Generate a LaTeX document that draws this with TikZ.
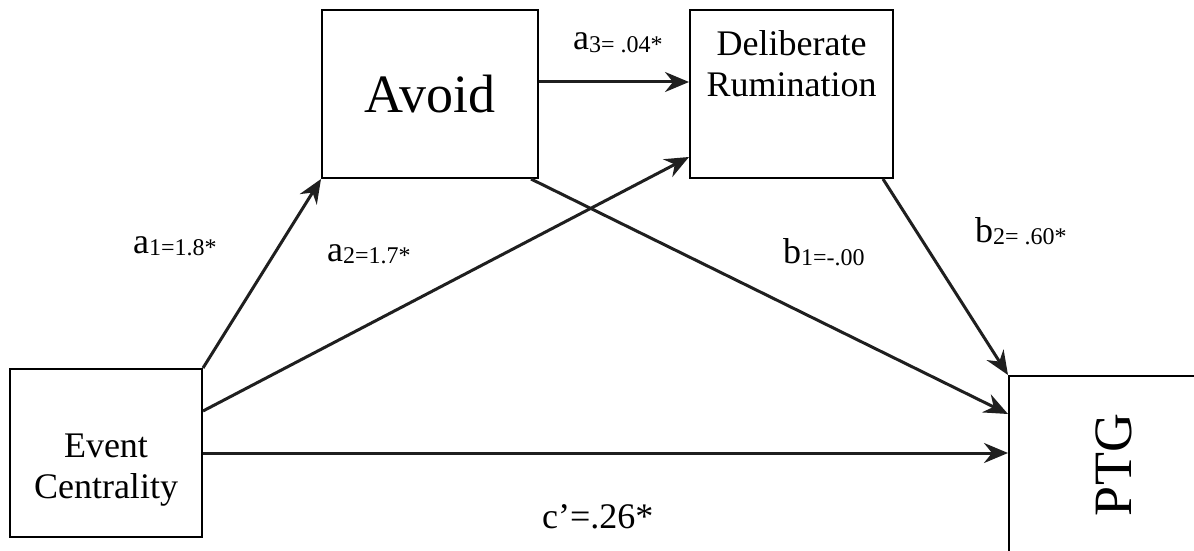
\documentclass[tikz,border=0pt]{standalone}
\usepackage{fontspec}
\setmainfont{Liberation Serif}
\usepackage{graphicx}
\usetikzlibrary{arrows.meta}

\newcommand{\coef}[2]{#1\raisebox{-2.5pt}{\fontsize{24}{26}\selectfont #2}}

\begin{document}
\begin{tikzpicture}[
        x=1pt, y=1pt,
        box/.style={rectangle, draw=black, line width=2pt, fill=white, inner sep=0pt},
        boxtext/.style={font=\fontsize{36}{41}\selectfont, align=center, inner sep=0pt, anchor=north},
        arrow/.style={-{Stealth[length=24pt, width=20pt, inset=8pt]}, line width=3pt, draw=black!88},
        coef/.style={anchor=base west, inner sep=0pt, font=\fontsize{36}{41}\selectfont}
    ]
        \useasboundingbox (0,0) rectangle (1194,550);
        \clip (0,0) rectangle (1194,550);

        % Variables
        \node[box, minimum width=192pt, minimum height=168pt, label={[boxtext, yshift=-66pt]north:Event\\Centrality}] (ec) at (106,97) {};
        \node[box, minimum width=216pt, minimum height=168pt, font=\fontsize{54}{60}\selectfont] (avoid) at (430,456) {Avoid};
        \node[box, minimum width=203pt, minimum height=168pt, label={[boxtext, yshift=-21pt]north:Deliberate\\Rumination}] (delib) at (791.5,456) {};
        \node[box, minimum width=210pt, minimum height=178pt, font=\fontsize{54}{60}\selectfont] (ptg) at (1114,85) {\rotatebox{90}{PTG}};

        % Paths
        \draw[arrow] (ec.north east) -- (avoid.south west);
        \draw[arrow] ([yshift=42pt]ec.east) -- ([yshift=-63pt]delib.west);
        \draw[arrow] (ec.east) -- (ec.east -| ptg.west);
        \draw[arrow] ([yshift=12pt]avoid.east) -- ([yshift=12pt]delib.west);
        \draw[arrow] ([xshift=-8pt]avoid.south east) -- ([yshift=-39pt]ptg.north west);
        \draw[arrow] ([xshift=-11pt]delib.south east) -- (ptg.north west);

        % Coefficients
        \node[coef] (la1) at (133,297) {\coef{a}{1=1.8*}};
        \node[coef] (la2) at (327,289) {\coef{a}{2=1.7*}};
        \node[coef] (la3) at (573,500) {\coef{a}{3= .04*}};
        \node[coef] (lb1) at (783,287) {\coef{b}{1=-.00}};
        \node[coef] (lb2) at (975,308) {\coef{b}{2= .60*}};
        \node[coef] (lc) at (542,22) {c'=.26*};
\end{tikzpicture}
\end{document}
